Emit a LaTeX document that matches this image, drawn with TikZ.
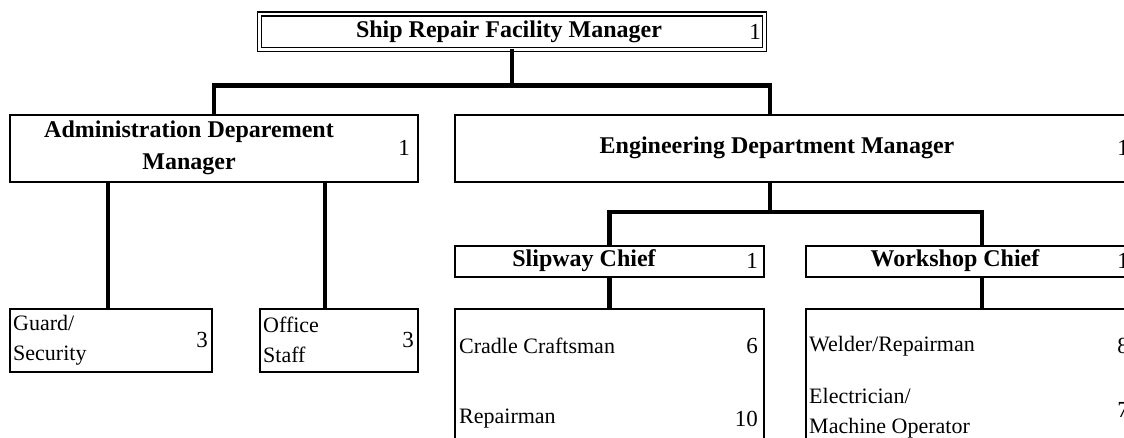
\documentclass[tikz,border=0pt]{standalone}
\usepackage{fontspec}
\setmainfont{Liberation Serif}
\begin{document}
\begin{tikzpicture}[
    x=1pt, y=-1pt,
    box/.style={
        rectangle, draw=black, line width=1.7pt, anchor=north west,
        inner sep=0pt, outer sep=0pt
    },
    headbox/.style={
        box, double, line width=1.3pt, double distance=2.8pt
    },
    title/.style={
        font=\fontsize{24}{32}\selectfont\bfseries, align=center, inner sep=0pt
    },
    item/.style={
        font=\fontsize{22}{30}\selectfont, anchor=west, align=left, inner sep=0pt
    },
    num/.style={
        font=\fontsize{23}{28}\selectfont, anchor=east, inner sep=0pt
    },
    link/.style={line width=4.8pt, draw=black},
]
\useasboundingbox (0,0) rectangle (1124,438);
\clip (0,0) rectangle (1124,438);

% ── Boxes ────────────────────────────────────────────────────
\node[headbox, minimum width=505pt, minimum height=35.5pt] (ship)      at (259.5,14) {};
\node[box, minimum width=408pt, minimum height=67pt]       (admin)     at (10,115)   {};
\node[box, minimum width=720pt, minimum height=67pt]       (eng)       at (455,115)  {};
\node[box, minimum width=202pt, minimum height=63pt]       (guard)     at (10,309)   {};
\node[box, minimum width=158pt, minimum height=63pt]       (office)    at (260,309)  {};
\node[box, minimum width=309pt, minimum height=31pt]       (slipchief) at (455,246)  {};
\node[box, minimum width=352pt, minimum height=31pt]       (workchief) at (806,246)  {};
\node[box, minimum width=309pt, minimum height=170pt]      (slipcrew)  at (455,309)  {};
\node[box, minimum width=352pt, minimum height=170pt]      (workcrew)  at (806,309)  {};

\coordinate (engup)    at (770,115);
\coordinate (guardup)  at (108,309);
\coordinate (officeup) at (325,309);

% ── Connectors ───────────────────────────────────────────────
\draw[link] (ship.south) -- ++(0,36) -| (admin.north);
\draw[link] (ship.south) -- ++(0,36) -| (engup);
\draw[link] (guardup |- admin.south) -- (guardup);
\draw[link] (officeup |- admin.south) -- (officeup);
\draw[link] (engup |- eng.south) -- ++(0,30) -| (slipchief.north);
\draw[link] (engup |- eng.south) -- ++(0,30) -| (workchief.north);
\draw[link] (slipchief.south) -- (slipcrew.north);
\draw[link] (workchief.south) -- (workcrew.north);

% ── Titles and head counts ───────────────────────────────────
\node[title] (shipT)  at (509,32)  {Ship Repair Facility Manager};
\node[num]   (shipN)  at (761,32)  {1};
\node[title] (adminT) at (189,148) {Administration Deparement\\Manager};
\node[num]   (adminN) at (410,148) {1};
\node[title] (engT)   at (777,148) {Engineering Department Manager};
\node[num]   (engN)   at (1129,148) {1};
\node[title] (slipT)  at (584,261) {Slipway Chief};
\node[num]   (slipN)  at (758,261) {1};
\node[title] (workT)  at (955,261) {Workshop Chief};
\node[num]   (workN)  at (1129,261) {1};

% ── Staff ────────────────────────────────────────────────────
\node[item] (guardT)  at (13,340)  {Guard/\\Security};
\node[num]  (guardN)  at (208,340) {3};
\node[item] (officeT) at (263,340) {Office\\Staff};
\node[num]  (officeN) at (414,340) {3};
\node[item] (cradleT) at (459,346) {Cradle Craftsman};
\node[num]  (cradleN) at (758,346) {6};
\node[item] (repT)    at (459,419) {Repairman};
\node[num]  (repN)    at (758,419) {10};
\node[item] (weldT)   at (809,346) {Welder/Repairman};
\node[num]  (weldN)   at (1129,346) {8};
\node[item] (elecT)   at (809,413) {Electrician/\\Machine Operator};
\node[num]  (elecN)   at (1129,410) {7};

\end{tikzpicture}
\end{document}
